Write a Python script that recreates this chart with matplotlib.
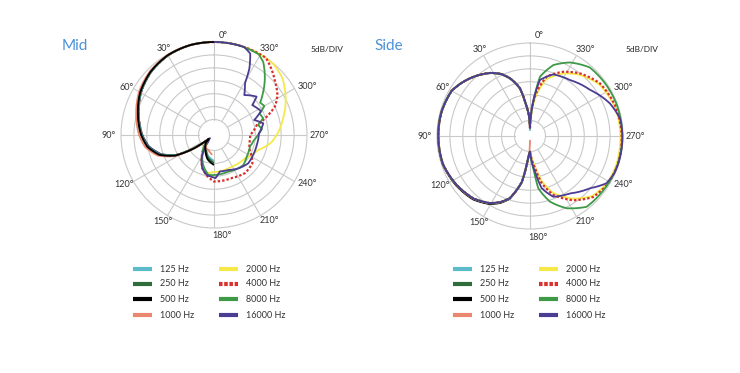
import matplotlib
matplotlib.use("Agg")
import matplotlib.pyplot as plt
from matplotlib.lines import Line2D
from matplotlib.path import Path
from matplotlib.patches import PathPatch
import numpy as np

plt.rcParams['font.family'] = ['Lato', 'DejaVu Sans']

W, H = 740, 373

freq_labels = ["125 Hz", "250 Hz", "500 Hz", "1000 Hz",
               "2000 Hz", "4000 Hz", "8000 Hz", "16000 Hz"]
freq_colors = ["#5bbcc7", "#2f6e3a", "#000000", "#e9876f",
               "#f7e84a", "#d8302b", "#3e9a46", "#4b3c94"]
angle_labels = ["0°", "30°", "60°", "90°", "120°", "150°",
                "180°", "210°", "240°", "270°", "300°", "330°"]

# ---------------- Mid (angle in degrees, level in dB) ----------------
mid_lobe_deg = [0, 15, 30, 45, 60, 75, 90, 100, 110, 118, 124, 127, 135, 150, 165, 180]
mid_125_db = [0, 0, -0.4, -1.4, -3.2, -5.7, -8, -10, -13.8, -19.5, -27.5, -33.5, -32, -30, -27.5, -26]
mid_250_db = [0, 0, -0.3, -1.3, -3.1, -5.6, -7.9, -9.9, -13.6, -19.2, -27.2, -33.5, -31.8, -29.8, -27, -25.2]
mid_500_db = [0, 0, -0.3, -1.3, -3, -5.5, -7.8, -9.8, -13.5, -19, -27, -33.5, -31.5, -29.4, -26.3, -24.4]
mid_1000_deg = [0, 15, 30, 45, 60, 75, 90, 100, 110, 118, 124, 127, 135, 150, 160, 175]
mid_1000_db = [0, 0, -0.2, -1, -2.5, -4.8, -7, -9, -12.8, -18.5, -26.5, -33, -31.5, -30, -29.8, -28.3]

mid_2000_deg = [0, 15, 30, 45, 60, 75, 90, 100, 110, 118, 124, 127, 135, 152, 161, 170, 180,
                184, 209, 233, 251, 263, 273, 283.5, 295, 310, 320, 330, 345, 360]
mid_2000_db = [0, 0, -0.4, -1.5, -3.3, -5.8, -8.2, -10.2, -14, -19.5, -27.5, -33.5, -32, -26, -22.5, -21, -21.7,
               -21.7, -22, -21, -18, -13.5, -11, -8.5, -5.4, -1.5, -0.2, 0, 0, 0]
mid_4000_deg = [0, 15, 30, 45, 60, 75, 90, 100, 110, 118, 124, 127, 135, 152, 161, 170, 180,
                202, 219, 233.5, 249, 260, 270, 283, 289, 295, 302, 311, 326, 340, 360]
mid_4000_db = [0, 0, -0.4, -1.5, -3.3, -5.8, -8.2, -10.2, -14, -19.5, -27.5, -33.5, -32, -25.8, -22.3, -20, -18,
               -18, -17, -17.5, -21.5, -22, -22, -19, -14.5, -10, -7, -4.6, 0, 0, 0]
mid_8000_deg = [0, 15, 30, 45, 60, 75, 90, 100, 110, 118, 124, 127, 135, 150, 160, 172, 180,
                201, 224, 236, 252, 262, 270, 277, 283, 289, 295, 300, 305, 310, 318, 326, 331, 345, 360]
mid_8000_db = [0, 0, -0.4, -1.5, -3.3, -5.8, -8.2, -10.4, -14.2, -19.5, -27.5, -33.5, -31, -27, -23.7, -20.4, -20.5,
               -20.8, -19.7, -20.8, -21.4, -20.5, -19, -17.3, -18.5, -15.9, -16.5, -13.5, -14.2, -11.4, -6.6, -1.9, -0.3, 0, 0]
mid_16000_deg = [0, 15, 30, 45, 60, 75, 90, 100, 110, 118, 124, 128, 139.6, 152, 160.7, 169.6, 180,
                 182, 189, 202, 216, 230.5, 243, 257, 272, 283.3, 290.4, 297, 308, 312, 322.8, 329, 332, 336, 341, 350, 360]
mid_16000_db = [0, 0, -0.4, -1.5, -3.3, -5.8, -8.2, -10.4, -14.2, -19.5, -27.5, -34, -32.6, -25.8, -22.3, -20.3, -19.5,
                -19.3, -21.7, -21.4, -20, -18.8, -19, -19, -18.6, -16.4, -19.4, -15.6, -17.2, -13.8, -16.6, -12.8, -6.8, -1.5, 0, 0, 0]

# ---------------- Side ----------------
side_lobe_deg = [0, 3, 7, 12, 19, 25, 32, 40, 46, 53, 60, 75, 90, 108, 124, 138, 149, 156, 162, 170, 174, 177, 180]
side_lobe_db = [-33, -28, -24, -17, -12.4, -9.5, -7.2, -5.2, -3.8, -2.3, -1.0, -0.5, -0.5, -0.6, -1.9, -3.4,
                -5.7, -8, -10.7, -18, -26, -29, -30]
side_125_db = [-34, -28.5, -24.3, -17.3, -12.6, -9.7, -7.3, -5.3, -3.8, -2.3, -0.9, -0.3, -0.3, -0.5, -1.8, -3.3,
               -5.6, -7.9, -10.6, -18, -26, -29, -30]
side_250_db = [-33, -28, -24, -17, -12.4, -9.5, -7.2, -5.2, -3.8, -2.3, -1.0, -0.5, -0.5, -0.6, -1.8, -3.2,
               -5.5, -7.8, -10.5, -18, -26, -29, -30]
side_500_db = [-33, -28, -24, -17, -12.4, -9.5, -7.2, -5.2, -3.8, -2.3, -1.0, -0.5, -0.5, -0.5, -1.6, -3.0,
               -5.3, -7.6, -10.4, -17.8, -26, -29, -30]
side_1000_deg = [0, 3, 7, 12, 19, 25, 32, 40, 46, 53, 60, 75, 90, 108, 124, 138, 149, 156, 162, 170, 174, 178, 180]
side_1000_db = [-33, -28, -24, -17, -12.4, -9.5, -7.2, -5.2, -3.8, -2.3, -1.0, -0.5, -0.5, -0.6, -1.8, -3.3,
                -5.6, -7.9, -10.6, -18, -26, -30, -34.5]

side_2000_rear_deg = [189, 194, 201.6, 214, 226, 238.5, 252, 270, 290, 307, 321.4, 332.6, 344.3, 351.4, 356, 360]
side_2000_rear_db = [-24.5, -18.5, -12.5, -6.8, -2.5, -1, -0.8, -1, -1.3, -2.6, -5.6, -8.8, -13.3, -20, -26, -33]
side_4000_rear_deg = [189, 194, 201.6, 214, 226, 238.5, 252, 270, 290, 307, 321.4, 332.6, 344.3, 351.4, 356, 360]
side_4000_rear_db = [-23.4, -17.1, -11.5, -6, -2, -0.6, -0.3, -0.5, -1, -2.1, -5, -8, -12.1, -18.7, -25, -33]
side_8000_rear_deg = [186, 189, 197, 207, 218.7, 232, 252, 270, 291, 305, 319, 331.5, 341.8, 350.4, 354.5, 360]
side_8000_rear_db = [-23.4, -15.5, -9.4, -4.6, -0.9, -0.7, -0.3, -0.3, -0.3, -0.5, -0.8, -3.6, -7.1, -12.7, -22.6, -33]
side_16000_rear_deg = [188, 192.6, 201, 215, 229, 238.3, 246.3, 256, 270, 281, 292.2, 307.5, 324.5, 339.3, 350, 354.5, 360]
side_16000_rear_db = [-22, -15.3, -10.8, -8.9, -5.2, -1.2, -0.3, -0.2, -0.2, -0.5, -2.6, -6.7, -9.4, -10.5, -14, -22, -33]

mid_series = [
    (mid_lobe_deg, mid_125_db), (mid_lobe_deg, mid_250_db),
    (mid_lobe_deg, mid_500_db), (mid_1000_deg, mid_1000_db),
    (mid_2000_deg, mid_2000_db), (mid_4000_deg, mid_4000_db),
    (mid_8000_deg, mid_8000_db), (mid_16000_deg, mid_16000_db),
]
side_series = [
    (side_lobe_deg, side_125_db), (side_lobe_deg, side_250_db),
    (side_lobe_deg, side_500_db), (side_1000_deg, side_1000_db),
    (side_lobe_deg + side_2000_rear_deg, side_lobe_db + side_2000_rear_db),
    (side_lobe_deg + side_4000_rear_deg, side_lobe_db + side_4000_rear_db),
    (side_lobe_deg + side_8000_rear_deg, side_lobe_db + side_8000_rear_db),
    (side_lobe_deg + side_16000_rear_deg, side_lobe_db + side_16000_rear_db),
]

# drawing order (index into the series lists)
mid_order = [4, 5, 6, 7, 0, 1, 3, 2]
side_order = [0, 1, 2, 3, 4, 5, 6, 7]

# label offsets from ring (pixels, x right / y down)
label_offsets = [(9, -7), (-3.5, -6), (-7, -1.5), (-12, 0.5), (-9, 3), (-5, 6),
                 (8, 8), (8.5, 5), (13, 1.5), (12, 0), (13, -2), (9, -6)]

grid_c = "#c9c9c9"
title_c = "#4a92d8"
text_c = "#333333"


def fx(px):
    return px / W


def fy(py):
    return 1 - py / H


fig = plt.figure(figsize=(W / 100, H / 100), dpi=100)


def polar_curve(ax, deg, db, **kw):
    # path in (theta, r) data space, resampled so the polar transform bends it
    path = Path(np.column_stack([np.radians(deg), db])).interpolated(24)
    ax.add_patch(PathPatch(path, fill=False, clip_on=False, joinstyle="round",
                           capstyle="butt", **kw))


def polar_panel(cx, cy, series, order, title, title_x, divx, legend_x):
    R = 93
    ax = fig.add_axes([fx(cx - R), fy(cy + R), 2 * R / W, 2 * R / H], projection="polar")
    ax.set_theta_zero_location("N")
    ax.set_theta_direction(1)
    ax.set_ylim(-36, 0)
    ax.set_yticks([-30, -25, -20, -15, -10, -5])
    ax.set_yticklabels([])
    ax.set_xticks(np.radians(np.arange(0, 360, 30)))
    ax.set_xticklabels([])
    ax.tick_params(length=0)
    ax.xaxis.grid(False)
    ax.yaxis.grid(True, color=grid_c, lw=0.8)
    ax.spines["polar"].set_color(grid_c)
    ax.spines["polar"].set_linewidth(0.8)
    for t in np.radians(np.arange(0, 360, 30)):
        ax.plot([t, t], [-30, 0], color=grid_c, lw=0.8, zorder=1)

    for z, i in enumerate(order):
        deg, db = series[i]
        col, lab = freq_colors[i], freq_labels[i]
        if lab == "4000 Hz":
            polar_curve(ax, deg, db, edgecolor=col, lw=1.6, ls=(0, (1.1, 0.9)), zorder=3 + z * 0.1)
        else:
            polar_curve(ax, deg, db, edgecolor=col, lw=1.3, zorder=3 + z * 0.1)

    for a, lab, (dx, dy) in zip(range(0, 360, 30), angle_labels, label_offsets):
        ax.annotate(lab, xy=(np.radians(a), 0), xytext=(dx, -dy),
                    textcoords="offset pixels", ha="center", va="center",
                    fontsize=6.5, color=text_c, annotation_clip=False)

    fig.text(fx(title_x), fy(50), title, fontsize=11, color=title_c, va="baseline")
    fig.text(fx(divx), fy(50), "5dB/DIV", fontsize=6, color="#222222", va="center")

    rows = [269, 284, 299, 315]
    for i, (col, lab) in enumerate(zip(freq_colors, freq_labels)):
        c = i // 4
        y = rows[i % 4]
        x0 = legend_x + c * 86
        ls = (0, (0.85, 0.4)) if lab == "4000 Hz" else "-"
        fig.add_artist(Line2D([fx(x0), fx(x0 + 19)], [fy(y), fy(y)], color=col, lw=3,
                              ls=ls, solid_capstyle="butt", dash_capstyle="butt",
                              transform=fig.transFigure))
        fig.text(fx(x0 + 27), fy(y), lab, fontsize=6.5, color=text_c, va="center")
    return ax


polar_panel(214, 135, mid_series, mid_order, "Mid", 62, 311, 133)
polar_panel(530, 136, side_series, side_order, "Side", 374, 626, 453)

fig.savefig("out.png", dpi=100)
